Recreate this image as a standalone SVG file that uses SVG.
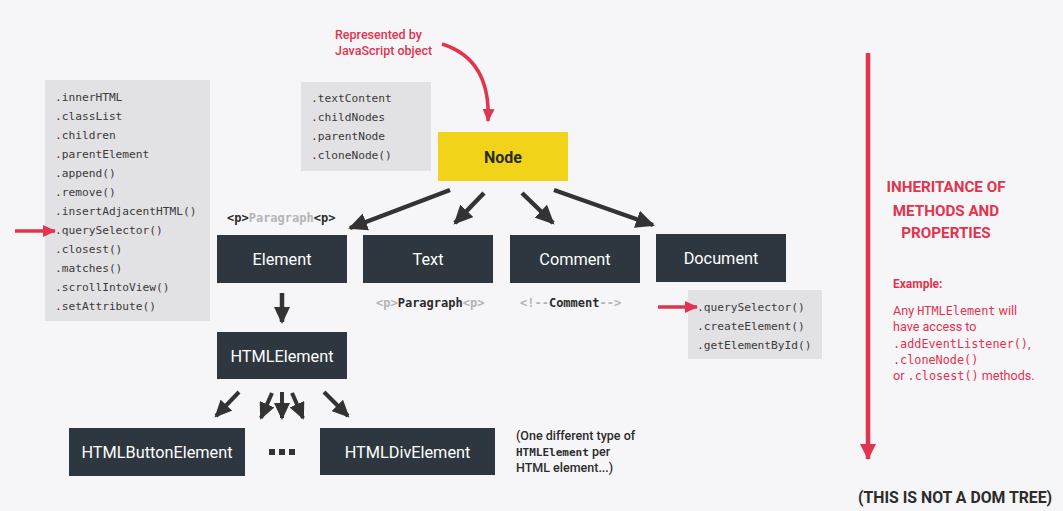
<svg xmlns="http://www.w3.org/2000/svg" width="1063" height="511" viewBox="0 0 1063 511">
<defs>
<style>
.bg{fill:#f6f5f7}
.list{fill:#e2e1e4}
.box{fill:#2e3740}
.lbl{font-family:Roboto,"Liberation Sans",sans-serif;font-size:16.3px;fill:#ffffff;text-anchor:middle}
.mono{font-family:"DejaVu Sans Mono","Liberation Mono",monospace;font-size:11.2px;fill:#3a3a3a}
.tag{font-family:"DejaVu Sans Mono","Liberation Mono",monospace;font-size:12px;font-weight:bold}
.dk{fill:#2c2c2c}
.lt{fill:#b4b4b4}
.ar{stroke:#333333;stroke-width:4.5;fill:none}
.ar2{stroke:#333333;stroke-width:4;fill:none}
.rar{stroke:#e0344f;stroke-width:3.5;fill:none}
.rt{font-family:Roboto,"Liberation Sans",sans-serif;fill:#e0344f}
.rm{font-family:"DejaVu Sans Mono","Liberation Mono",monospace;font-size:11.8px}
</style>
<marker id="hd" markerUnits="userSpaceOnUse" markerWidth="20" markerHeight="18" refX="17" refY="9" orient="auto">
<path d="M0,0 L19,9 L0,18 z" fill="#333333"/>
</marker>
<marker id="hs" markerUnits="userSpaceOnUse" markerWidth="18" markerHeight="16" refX="15" refY="8" orient="auto">
<path d="M0,0 L17,8 L0,16 z" fill="#333333"/>
</marker>
<marker id="rh" markerUnits="userSpaceOnUse" markerWidth="14" markerHeight="12" refX="12" refY="6" orient="auto">
<path d="M0,0 L13,6 L0,12 z" fill="#e0344f"/>
</marker>
<marker id="rhb" markerUnits="userSpaceOnUse" markerWidth="18" markerHeight="16" refX="15" refY="8" orient="auto">
<path d="M0,0 L16,8 L0,16 z" fill="#e0344f"/>
</marker>
</defs>
<rect class="bg" x="0" y="0" width="1063" height="511"/>

<g id="element-list">
<rect class="list" x="45" y="80" width="165" height="241"/>
<text class="mono" x="55" y="101">.innerHTML</text>
<text class="mono" x="55" y="120">.classList</text>
<text class="mono" x="55" y="139">.children</text>
<text class="mono" x="55" y="158">.parentElement</text>
<text class="mono" x="55" y="177">.append()</text>
<text class="mono" x="55" y="196">.remove()</text>
<text class="mono" x="55" y="215">.insertAdjacentHTML()</text>
<text class="mono" x="55" y="234">.querySelector()</text>
<text class="mono" x="55" y="253">.closest()</text>
<text class="mono" x="55" y="272">.matches()</text>
<text class="mono" x="55" y="291">.scrollIntoView()</text>
<text class="mono" x="55" y="310">.setAttribute()</text>
</g>

<g id="node-list">
<rect class="list" x="301" y="82" width="130" height="89"/>
<text class="mono" x="311" y="102">.textContent</text>
<text class="mono" x="311" y="121">.childNodes</text>
<text class="mono" x="311" y="140">.parentNode</text>
<text class="mono" x="311" y="159">.cloneNode()</text>
</g>

<g id="document-list">
<rect class="list" x="688" y="290" width="134" height="69"/>
<text class="mono" x="697" y="311">.querySelector()</text>
<text class="mono" x="697" y="330">.createElement()</text>
<text class="mono" x="697" y="349">.getElementById()</text>
</g>

<g id="js-note">
<text class="rt" font-size="12.5" font-weight="500" x="335" y="39">Represented by</text>
<text class="rt" font-size="12.5" font-weight="500" x="335" y="55">JavaScript object</text>
</g>

<g id="node">
<rect x="438" y="132" width="130" height="49" fill="#f1d319"/>
<text x="503" y="163" font-family="Roboto,'Liberation Sans',sans-serif" font-size="16" font-weight="bold" fill="#2b2b2b" text-anchor="middle">Node</text>
</g>

<g id="element">
<rect class="box" x="217" y="235" width="130" height="48"/>
<text class="lbl" x="282" y="265">Element</text>
<text class="tag" x="227" y="222"><tspan class="dk">&lt;p&gt;</tspan><tspan class="lt">Paragraph</tspan><tspan class="dk">&lt;p&gt;</tspan></text>
</g>

<g id="text">
<rect class="box" x="363" y="235" width="130" height="48"/>
<text class="lbl" x="428" y="265">Text</text>
<text class="tag" x="376" y="307"><tspan class="lt">&lt;p&gt;</tspan><tspan class="dk">Paragraph</tspan><tspan class="lt">&lt;p&gt;</tspan></text>
</g>

<g id="comment">
<rect class="box" x="510" y="235" width="130" height="48"/>
<text class="lbl" x="575" y="265">Comment</text>
<text class="tag" x="520" y="307"><tspan class="lt">&lt;!--</tspan><tspan class="dk">Comment</tspan><tspan class="lt">--&gt;</tspan></text>
</g>

<g id="document">
<rect class="box" x="656" y="234" width="130" height="48"/>
<text class="lbl" x="721" y="264">Document</text>
</g>

<g id="htmlelement">
<rect class="box" x="217" y="332" width="130" height="47"/>
<text class="lbl" x="282" y="362">HTMLElement</text>
</g>

<g id="htmlbuttonelement">
<rect class="box" x="69" y="428" width="176" height="48"/>
<text class="lbl" x="157" y="458">HTMLButtonElement</text>
</g>

<g id="ellipsis">
<rect x="269" y="449" width="6" height="6" fill="#333333"/>
<rect x="279" y="449" width="6" height="6" fill="#333333"/>
<rect x="289" y="449" width="6" height="6" fill="#333333"/>
</g>

<g id="htmldivelement">
<rect class="box" x="320" y="428" width="175" height="47"/>
<text class="lbl" x="407.5" y="458">HTMLDivElement</text>
</g>

<g id="per-element-note">
<text font-family="Roboto,'Liberation Sans',sans-serif" font-size="12.5" font-weight="500" fill="#2c2c2c" x="516" y="440">(One different type of</text>
<text font-family="Roboto,'Liberation Sans',sans-serif" font-size="12.5" font-weight="500" fill="#2c2c2c" x="516" y="456"><tspan font-family="'DejaVu Sans Mono','Liberation Mono',monospace" font-size="11" font-weight="bold">HTMLElement</tspan> per</text>
<text font-family="Roboto,'Liberation Sans',sans-serif" font-size="12.5" font-weight="500" fill="#2c2c2c" x="516" y="472">HTML element...)</text>
</g>

<g id="inheritance">
<text class="rt" font-size="15.2" font-weight="bold" text-anchor="middle" x="946" y="192">INHERITANCE OF</text>
<text class="rt" font-size="15.2" font-weight="bold" text-anchor="middle" x="946" y="216">METHODS AND</text>
<text class="rt" font-size="15.2" font-weight="bold" text-anchor="middle" x="946" y="238">PROPERTIES</text>
<text class="rt" font-size="12" font-weight="bold" x="893" y="288">Example:</text>
<text class="rt" font-size="12.6" x="893" y="315">Any <tspan class="rm">HTMLElement</tspan> will</text>
<text class="rt" font-size="12.6" x="893" y="331">have access to</text>
<text class="rt" font-size="12.6" x="893" y="348"><tspan class="rm">.addEventListener()</tspan>,</text>
<text class="rt" font-size="12.6" x="893" y="364"><tspan class="rm">.cloneNode()</tspan></text>
<text class="rt" font-size="12.6" x="893" y="380">or <tspan class="rm">.closest()</tspan> methods.</text>
</g>

<g id="footer">
<text font-family="Roboto,'Liberation Sans',sans-serif" font-size="15.8" font-weight="bold" fill="#2c2c2c" x="858" y="503">(THIS IS NOT A DOM TREE)</text>
</g>

<g id="connectors">
<line class="ar" x1="450" y1="190" x2="350" y2="228" marker-end="url(#hd)"/>
<line class="ar" x1="484" y1="193" x2="455" y2="223" marker-end="url(#hd)"/>
<line class="ar" x1="522" y1="193" x2="553" y2="223" marker-end="url(#hd)"/>
<line class="ar" x1="554" y1="190" x2="653" y2="225" marker-end="url(#hd)"/>
<line class="ar" x1="282" y1="293" x2="282" y2="322" marker-end="url(#hs)"/>
<line class="ar2" x1="239" y1="392" x2="216" y2="416" marker-end="url(#hs)"/>
<line class="ar2" x1="272" y1="393" x2="261" y2="418" marker-end="url(#hs)"/>
<line class="ar2" x1="282" y1="392" x2="282" y2="418" marker-end="url(#hs)"/>
<line class="ar2" x1="292" y1="393" x2="303" y2="418" marker-end="url(#hs)"/>
<line class="ar2" x1="324" y1="392" x2="348" y2="416" marker-end="url(#hs)"/>
<path class="rar" d="M442,44 C474,54 490,80 488,121" marker-end="url(#rh)"/>
<line class="rar" x1="15" y1="231" x2="55" y2="231" marker-end="url(#rh)"/>
<line class="rar" x1="658" y1="307" x2="697" y2="307" marker-end="url(#rh)"/>
<line x1="868" y1="53" x2="868" y2="459" stroke="#e0344f" stroke-width="4.5" marker-end="url(#rhb)"/>
</g>
</svg>
